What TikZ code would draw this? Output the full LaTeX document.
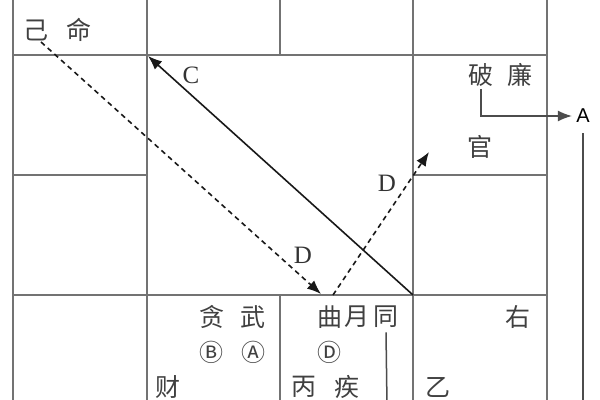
\documentclass[tikz,border=0pt]{standalone}
\usepackage{fontspec}
\setmainfont{Liberation Serif}
\newfontfamily\cjk{Noto Sans CJK SC}
\newfontfamily\arialfont{Liberation Sans}
\usetikzlibrary{arrows.meta}
\begin{document}
\begin{tikzpicture}[x=0.5pt,y=-0.5pt,
  grid/.style={draw=black!55,line width=0.65pt},
  cj/.style={inner sep=0pt,text=black!75,font=\cjk\fontsize{12.5}{12.5}\selectfont},
  circ/.style={inner sep=0pt,text=black!75,font=\cjk\fontsize{12}{12}\selectfont},
  lbl/.style={inner sep=0pt,text=black!80,font=\fontsize{12.5}{12.5}\selectfont},
  solidarrow/.style={draw=black!90,line width=0.8pt,-{Latex[length=7pt,width=5.5pt]}},
  dasharrow/.style={draw=black!90,line width=0.8pt,dash pattern=on 2.5pt off 2pt,-{Latex[length=7pt,width=5.5pt]}},
  plainline/.style={draw=black!70,line width=0.75pt}]
\useasboundingbox (0,0) rectangle (600,400);
\fill[white] (0,0) rectangle (600,400);
\begin{scope}
\clip (0,0) rectangle (600,400);
% grid
\draw[grid] (13,-5) -- (13,405);
\draw[grid] (147,-5) -- (147,405);
\draw[grid] (280,-5) -- (280,55);
\draw[grid] (280,295) -- (280,405);
\draw[grid] (413,-5) -- (413,405);
\draw[grid] (547,-5) -- (547,405);
\draw[grid] (13,55) -- (547,55);
\draw[grid] (13,175) -- (147,175);
\draw[grid] (413,175) -- (547,175);
\draw[grid] (13,295) -- (547,295);

% texts
\node[cj] (ji) at (36,30) {己};
\node[cj] (ming) at (79,30) {命};
\node[cj] (po) at (481,75) {破};
\node[cj] (lian) at (520,75) {廉};
\node[cj] (guan) at (480,147) {官};
\node[cj] (tan) at (212,317) {贪};
\node[cj] (wu) at (253,317) {武};
\node[circ] (cb) at (211,352) {Ⓑ};
\node[circ] (ca) at (253,352) {Ⓐ};
\node[cj] (cai) at (168,387) {财};
\node[cj] (qu) at (330,317) {曲};
\node[cj] (yue) at (357,317) {月};
\node[cj] (tong) at (386,317) {同};
\node[circ] (cd) at (329,352) {Ⓓ};
\node[cj] (bing) at (304,387) {丙};
\node[cj] (ji2) at (347,387) {疾};
\node[cj] (you) at (518,317) {右};
\node[cj] (yi) at (438,387) {乙};
\node[inner sep=0pt,text=black,font=\arialfont\fontsize{10}{10}\selectfont] (A) at (583,116) {A};
\node[lbl] (C) at (191,75) {C};
\node[lbl] (D1) at (303,255) {D};
\node[lbl] (D2) at (387,183) {D};

% coordinates
\coordinate (cstart) at (413,295);
\coordinate (cend) at (148,56);
\coordinate (d1s) at (41,42);
\coordinate (d1e) at (321,294);
\coordinate (d2s) at (333,295);
\coordinate (d2e) at (429,152);
\coordinate (abot) at (583,405);
\coordinate (tbot) at (387,405);

% connectors
\draw[solidarrow] (cstart) -- (cend);
\draw[dasharrow] (d1s) -- (d1e);
\draw[dasharrow] (d2s) -- (d2e);
\draw[plainline,-{Latex[length=7pt,width=5.5pt]}] ([yshift=-1pt]po.south) |- ([xshift=-2pt]A.west);
\draw[plainline] ([yshift=-5pt]A.south) -- (abot);
\draw[plainline] ([yshift=-2pt]tong.south) -- (tbot);
\end{scope}
\end{tikzpicture}
\end{document}
